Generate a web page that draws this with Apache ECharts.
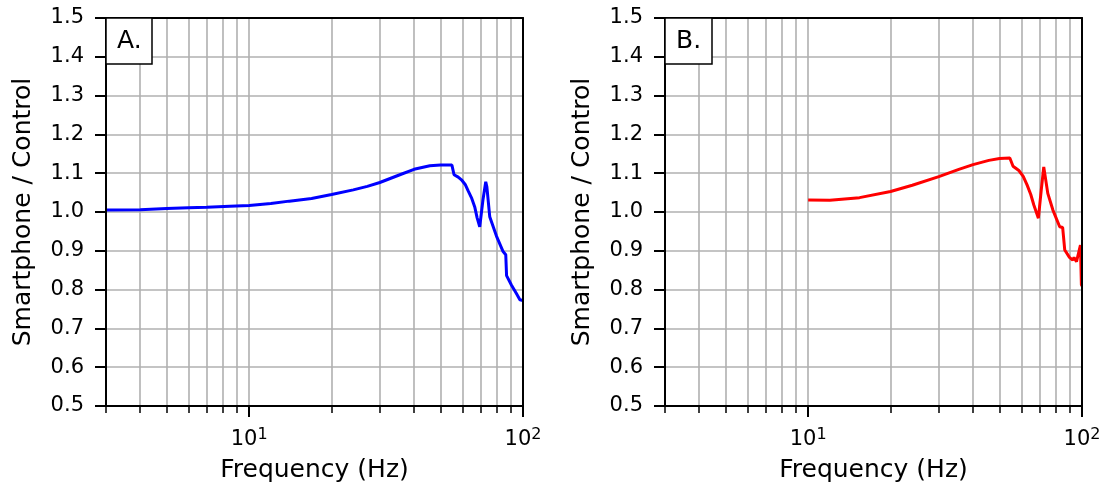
<!DOCTYPE html>
<html>
<head>
<meta charset="utf-8">
<script src="https://cdn.jsdelivr.net/npm/echarts@6/dist/echarts.min.js"></script>
<style>
  html, body { margin: 0; padding: 0; background: #fff; }
  #chart { width: 1109px; height: 488px; }
</style>
</head>
<body>
<div id="chart"></div>
<script>
// data
var freqA = [3, 4, 5, 6, 7, 8.5, 10, 12, 14, 16.9, 20, 24, 27, 30, 35.5, 40, 45.7, 50, 55, 56, 58, 59.6, 61.5, 63, 65, 66.7, 68, 69.5, 70.3, 71.4, 73.1, 73.8, 75.6, 80, 84.6, 86.5, 87.1, 90.7, 94.6, 97.4, 100];
var ratioA = [1.005, 1.006, 1.009, 1.011, 1.012, 1.015, 1.017, 1.022, 1.028, 1.035, 1.045, 1.057, 1.066, 1.076, 1.096, 1.110, 1.119, 1.121, 1.121, 1.096, 1.090, 1.083, 1.071, 1.055, 1.035, 1.012, 0.985, 0.962, 0.960, 1.031, 1.078, 1.065, 0.988, 0.938, 0.898, 0.890, 0.836, 0.812, 0.790, 0.774, 0.772];

var freqB = [10, 12, 15.4, 20, 24, 30, 35.5, 40, 45.7, 50, 54.5, 56, 58.8, 61, 63, 65, 66.7, 69.3, 71, 72.5, 75, 78.3, 82.9, 85, 86.5, 90, 92.5, 93.5, 95.5, 98.7, 99.5, 100];
var ratioB = [1.031, 1.030, 1.037, 1.053, 1.069, 1.091, 1.110, 1.122, 1.133, 1.138, 1.139, 1.118, 1.107, 1.092, 1.070, 1.045, 1.018, 0.984, 1.057, 1.116, 1.048, 1.005, 0.962, 0.960, 0.902, 0.883, 0.876, 0.883, 0.872, 0.915, 0.812, 0.810];

var minorTicks = [3, 4, 5, 6, 7, 8, 9, 10, 20, 30, 40, 50, 60, 70, 80, 90, 100];
var majorTicks = [10, 100];
var panelNames = ['A.', 'B.'];

var font = 'DejaVu Sans';
var chart = echarts.init(document.getElementById('chart'));

var grids = [], xAxes = [], yAxes = [], titles = [], series = [];
var lefts = [106, 665];

function pairs(xs, ys) {
  return xs.map(function (x, i) { return [x, ys[i]]; });
}

// vertical grid lines at every log tick (3..9, 10..100)
function vGrid() {
  return {
    silent: true, symbol: 'none', z: 1,
    label: { show: false },
    lineStyle: { color: '#b0b0b0', width: 1.6, type: 'solid' },
    emphasis: { disabled: true },
    data: minorTicks.map(function (v) { return { xAxis: v }; })
  };
}

lefts.forEach(function (left, g) {
  grids.push({ left: left, top: 18, width: 417, height: 388 });

  // minor ticks
  xAxes.push({
    type: 'log', gridIndex: g, position: 'bottom', min: 3, max: 100, z: 0,
    axisLine: { show: false, onZero: false },
    axisTick: { show: true, length: 7, customValues: minorTicks, lineStyle: { color: '#000', width: 1.5 } },
    axisLabel: { show: false },
    splitLine: { show: false }
  });
  // major ticks, labels, bottom spine
  xAxes.push({
    type: 'log', gridIndex: g, position: 'bottom', min: 3, max: 100, z: 5,
    name: 'Frequency (Hz)', nameLocation: 'middle', nameGap: 52,
    nameTextStyle: { fontFamily: font, fontSize: 25, color: '#000' },
    axisLine: { show: true, onZero: false, lineStyle: { color: '#000', width: 2 } },
    axisTick: { show: true, length: 11, customValues: majorTicks, lineStyle: { color: '#000', width: 2 } },
    axisLabel: {
      show: true, customValues: majorTicks, margin: 21,
      formatter: function (v) {
        return '{b|10}{s|' + Math.round(Math.log10(v)) + '}';
      },
      rich: {
        b: { fontFamily: font, fontSize: 21, color: '#000', lineHeight: 26 },
        s: { fontFamily: font, fontSize: 16, color: '#000', verticalAlign: 'top', lineHeight: 16 }
      }
    },
    splitLine: { show: false }
  });
  // top spine
  xAxes.push({
    type: 'log', gridIndex: g, position: 'top', min: 3, max: 100, z: 5,
    axisLine: { show: true, onZero: false, lineStyle: { color: '#000', width: 2 } },
    axisTick: { show: false }, axisLabel: { show: false }, splitLine: { show: false }
  });

  // y values, ticks, horizontal grid lines
  yAxes.push({
    type: 'value', gridIndex: g, position: 'left', min: 0.5, max: 1.5, interval: 0.1, z: 0,
    name: 'Smartphone / Control', nameLocation: 'middle', nameGap: 70,
    nameTextStyle: { fontFamily: font, fontSize: 25, color: '#000' },
    axisLine: { show: false },
    axisTick: { show: true, length: 11, lineStyle: { color: '#000', width: 2 } },
    axisLabel: {
      margin: 22, fontFamily: font, fontSize: 21, color: '#000',
      formatter: function (v) { return v.toFixed(1); }
    },
    splitLine: { show: true, lineStyle: { color: '#b0b0b0', width: 1.6 } }
  });
  // left and right spines
  ['left', 'right'].forEach(function (pos) {
    yAxes.push({
      type: 'value', gridIndex: g, position: pos, min: 0.5, max: 1.5, z: 5,
      axisLine: { show: true, lineStyle: { color: '#000', width: 2 } },
      axisTick: { show: false }, axisLabel: { show: false }, splitLine: { show: false }
    });
  });

  titles.push({
    text: panelNames[g], left: left, top: 18,
    backgroundColor: '#fff', borderColor: '#000', borderWidth: 1.5,
    padding: [11, 11, 10, 11],
    textStyle: { fontFamily: font, fontSize: 25, fontWeight: 'normal', color: '#000' }
  });
});

series.push({
  type: 'line', xAxisIndex: 0, yAxisIndex: 0, showSymbol: false, z: 2,
  lineStyle: { color: '#0000ff', width: 3 }, itemStyle: { color: '#0000ff' },
  markLine: vGrid(),
  data: pairs(freqA, ratioA)
});
series.push({
  type: 'line', xAxisIndex: 3, yAxisIndex: 3, showSymbol: false, z: 2,
  lineStyle: { color: '#ff0000', width: 3 }, itemStyle: { color: '#ff0000' },
  markLine: vGrid(),
  data: pairs(freqB, ratioB)
});

var option = {
  animation: false,
  backgroundColor: '#fff',
  title: titles,
  grid: grids,
  xAxis: xAxes,
  yAxis: yAxes,
  series: series
};

chart.setOption(option);
window.addEventListener('resize', chart.resize);
</script>
</body>
</html>
